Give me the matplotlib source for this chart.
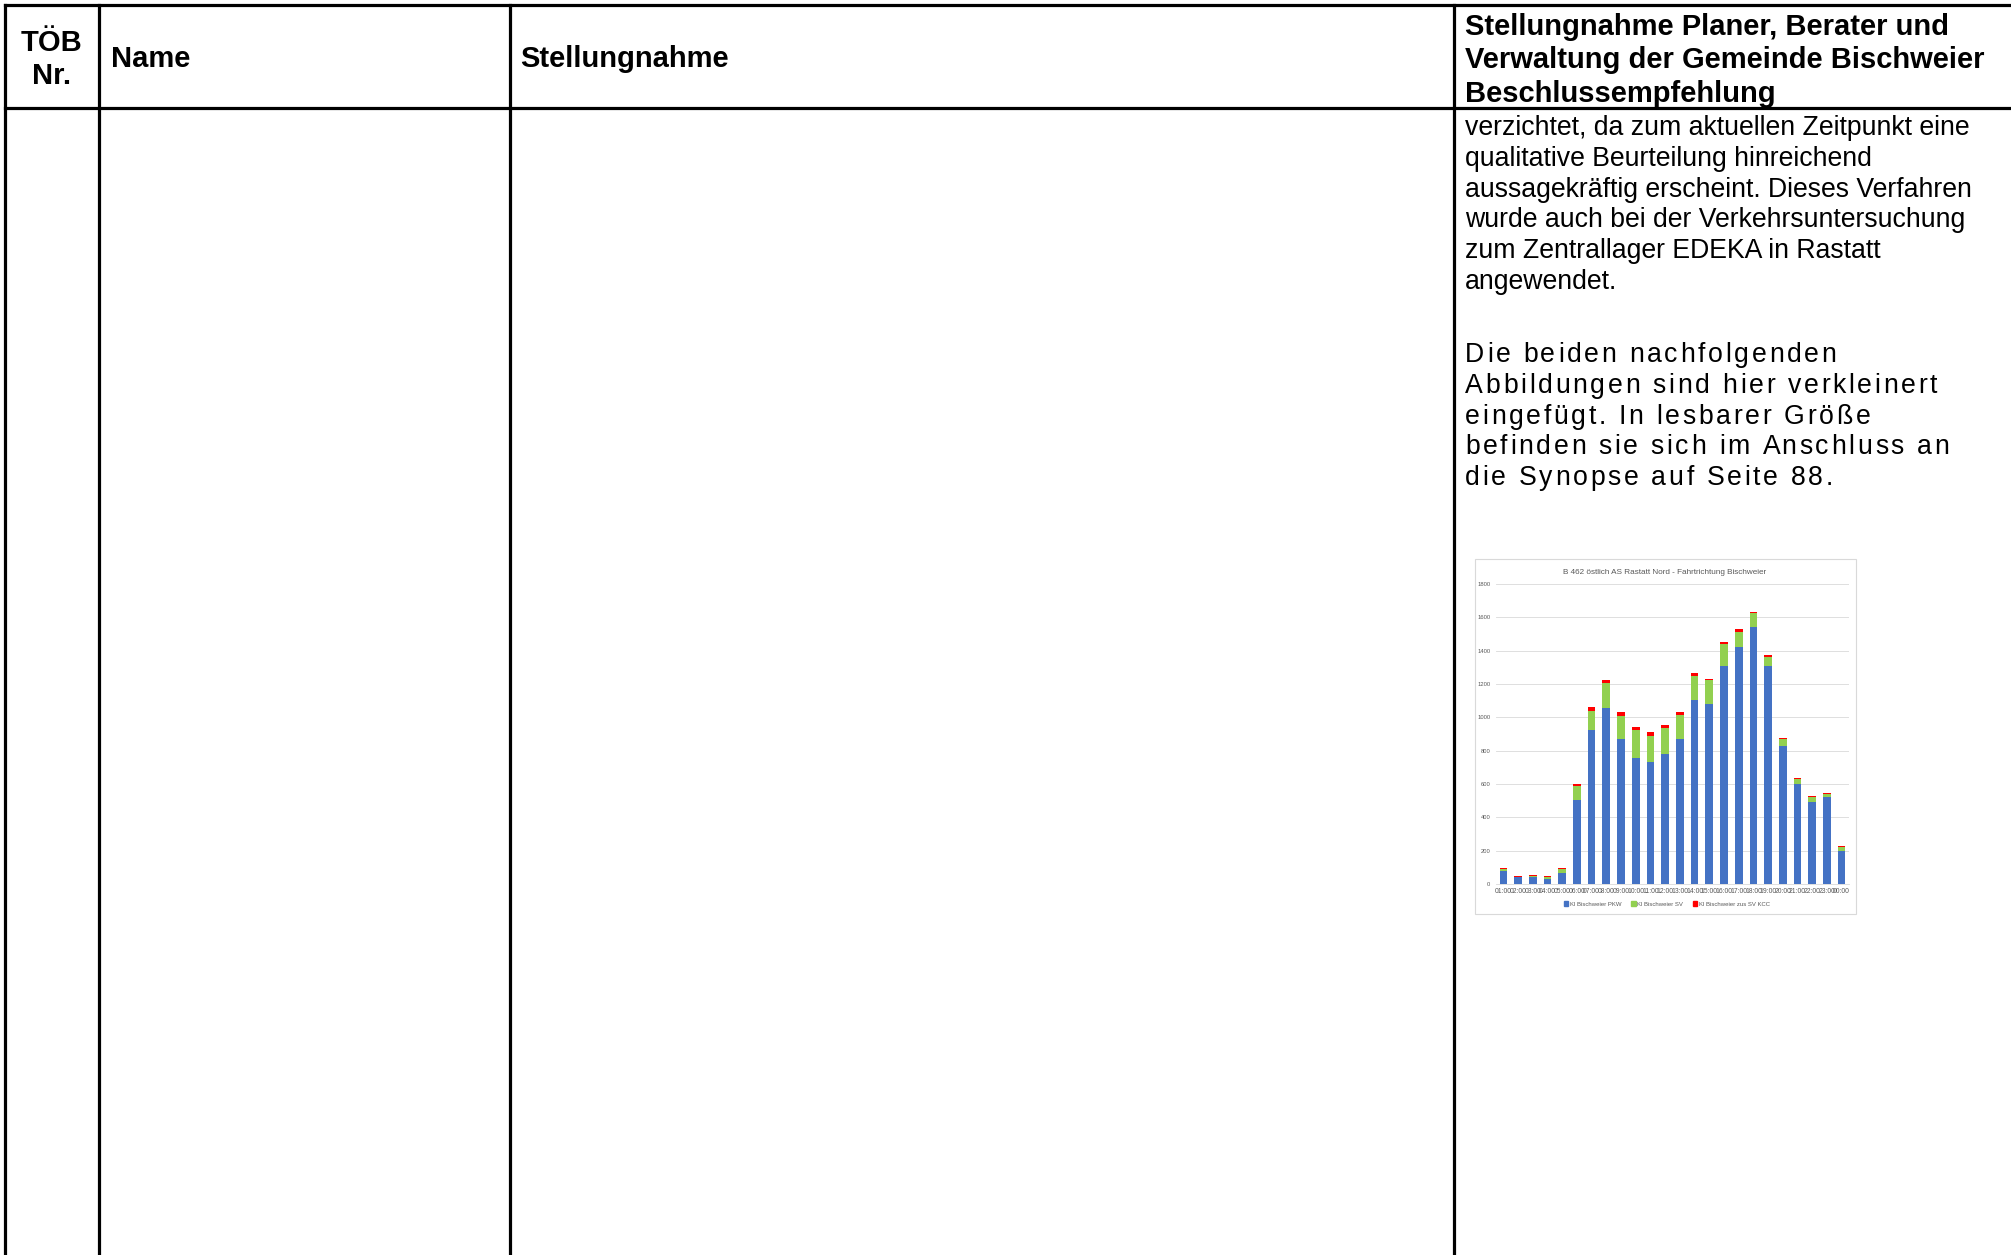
import numpy as np
import matplotlib.pyplot as plt
from matplotlib.patches import Rectangle, Patch
from matplotlib.font_manager import FontProperties

FONT = "Liberation Sans"

# Tabellenkopf
header_cols = ["TÖB\nNr.", "Name", "Stellungnahme"]
header_right = ["Stellungnahme Planer, Berater und",
                "Verwaltung der Gemeinde Bischweier",
                "Beschlussempfehlung"]

# Text in der rechten Spalte
para1 = ["verzichtet, da zum aktuellen Zeitpunkt eine",
         "qualitative Beurteilung hinreichend",
         "aussagekräftig erscheint. Dieses Verfahren",
         "wurde auch bei der Verkehrsuntersuchung",
         "zum Zentrallager EDEKA in Rastatt",
         "angewendet."]
para2 = ["Die beiden nachfolgenden",
         "Abbildungen sind hier verkleinert",
         "eingefügt. In lesbarer Größe",
         "befinden sie sich im Anschluss an",
         "die Synopse auf Seite 88."]

# Daten der eingefuegten Grafik
chart_title = "B 462 östlich AS Rastatt Nord - Fahrtrichtung Bischweier"
hours = ["01:00", "02:00", "03:00", "04:00", "05:00", "06:00", "07:00", "08:00",
         "09:00", "10:00", "11:00", "12:00", "13:00", "14:00", "15:00", "16:00",
         "17:00", "18:00", "19:00", "20:00", "21:00", "22:00", "23:00", "00:00"]
pkw = np.array([80, 40, 40, 30, 65, 505, 925, 1055, 873, 758, 733, 781,
                873, 1105, 1083, 1307, 1421, 1545, 1311, 827, 601, 495, 525, 200])
sv = np.array([12, 3, 10, 10, 27, 85, 116, 150, 138, 166, 158, 158,
               144, 146, 140, 136, 90, 82, 52, 44, 32, 26, 16, 20])
zus_sv = np.array([6, 3, 6, 5, 7, 10, 20, 22, 22, 18, 24, 18,
                   16, 18, 10, 8, 18, 8, 10, 8, 6, 8, 8, 8])
series_names = ["Kl Bischweier PKW", "Kl Bischweier SV", "Kl Bischweier zus SV KCC"]
series_colors = ["#4472C4", "#92D050", "#FF0000"]

W, H = 2011, 1255
fig = plt.figure(figsize=(W / 100, H / 100), dpi=100)

# Hintergrund-Achse in Pixelkoordinaten fuer die Tabelle
bg = fig.add_axes([0, 0, 1, 1])
bg.set_xlim(0, W)
bg.set_ylim(H, 0)
bg.axis("off")

lw = 2.3
for yl in [5, 108]:
    bg.plot([5, W], [yl, yl], color="black", lw=lw, solid_capstyle="projecting")
for xl in [5, 99, 510, 1454]:
    bg.plot([xl, xl], [5, H], color="black", lw=lw, solid_capstyle="projecting")

hsize = 21
bsize = 19.2

bg.text(52, 51, "TÖB", fontsize=hsize, fontweight="bold", family=FONT, ha="center", va="baseline")
bg.text(52, 84, "Nr.", fontsize=hsize, fontweight="bold", family=FONT, ha="center", va="baseline")
bg.text(111, 67, header_cols[1], fontsize=hsize, fontweight="bold", family=FONT, va="baseline")
bg.text(520, 67, header_cols[2], fontsize=hsize, fontweight="bold", family=FONT, va="baseline")
for i, line in enumerate(header_right):
    bg.text(1465, 35 + i * 33.5, line, fontsize=hsize, fontweight="bold", family=FONT, va="baseline")

for i, line in enumerate(para1):
    bg.text(1465, 135 + i * 30.8, line, fontsize=bsize, family=FONT, va="baseline")

# gesperrter Text (Zeichenabstand erweitert)
renderer = fig.canvas.get_renderer()
prop = FontProperties(family=FONT, size=bsize)
ref_w = renderer.get_text_width_height_descent("x", prop, ismath=False)[0]


def tracked(x, y, s, spacing=2.7):
    for i, ch in enumerate(s):
        if ch == " ":
            continue
        off = 0
        if i:
            off = renderer.get_text_width_height_descent(s[:i] + "x", prop, ismath=False)[0] - ref_w
        bg.text(x + off + i * spacing, y, ch, fontproperties=prop, va="baseline")


for i, line in enumerate(para2):
    tracked(1465, 362 + i * 30.8, line)

# Rahmen der eingefuegten Grafik
bg.add_patch(Rectangle((1475, 559), 381, 355, fill=False, edgecolor="#D9D9D9", lw=0.8))

gray = "#595959"
fig.text(1665 / W, 1 - 572 / H, chart_title, fontsize=5.9, color=gray,
         ha="center", va="center", family=FONT)

ax = fig.add_axes([1496 / W, 1 - 884 / H, (1849 - 1496) / W, 300 / H])
x = np.arange(len(hours))
bw = 0.52
ax.bar(x, pkw, width=bw, color=series_colors[0], zorder=3)
ax.bar(x, sv, width=bw, bottom=pkw, color=series_colors[1], zorder=3)
ax.bar(x, zus_sv, width=bw, bottom=pkw + sv, color=series_colors[2], zorder=3)
ax.set_xlim(-0.5, len(hours) - 0.5)
ax.set_ylim(0, 1800)
ax.set_yticks(range(0, 1801, 200))
ax.set_xticks(x)
ax.set_xticklabels(hours)
ax.grid(axis="y", color="#D9D9D9", lw=0.6, zorder=0)
for side in ["top", "right", "left"]:
    ax.spines[side].set_visible(False)
ax.spines["bottom"].set_color("#D9D9D9")
ax.spines["bottom"].set_linewidth(0.6)
ax.tick_params(axis="y", length=0, labelsize=4.2, colors=gray, pad=4)
ax.tick_params(axis="x", length=0, labelsize=4.9, colors=gray, pad=3)
for lab in ax.get_xticklabels() + ax.get_yticklabels():
    lab.set_family(FONT)

handles = [Patch(color=c, label=n) for c, n in zip(series_colors, series_names)]
fig.legend(handles=handles, loc="center", bbox_to_anchor=(1667 / W, 1 - 904 / H),
           ncol=3, frameon=False, handlelength=0.7, handleheight=0.7,
           columnspacing=1.6, handletextpad=0.3, labelcolor=gray,
           prop={"family": FONT, "size": 4.3})

fig.savefig("out.png", dpi=100)
